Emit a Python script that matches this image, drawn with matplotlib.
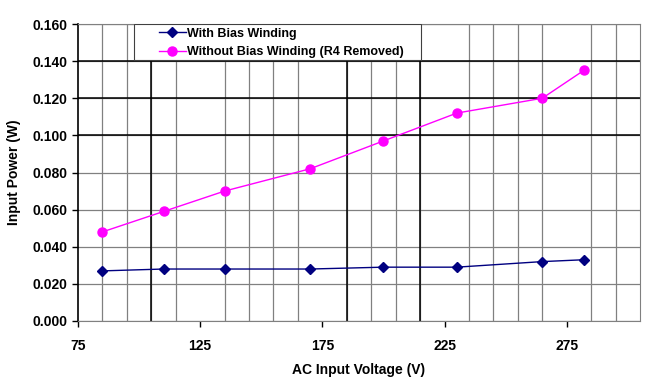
import matplotlib.pyplot as plt
from matplotlib.ticker import MultipleLocator, FixedLocator, FormatStrFormatter
from matplotlib.patches import Rectangle

plt.rcParams['font.family'] = ['Liberation Sans', 'DejaVu Sans']

# measured data
voltage = [85, 110, 135, 170, 200, 230, 265, 282]
with_bias = [0.027, 0.028, 0.028, 0.028, 0.029, 0.029, 0.032, 0.033]
without_bias = [0.048, 0.059, 0.070, 0.082, 0.097, 0.112, 0.120, 0.135]
x_ticks = [75, 125, 175, 225, 275]
grid_x = list(range(85, 305, 10))
dark_vlines = [105, 185, 215]
dark_hlines = [0.100, 0.120, 0.140]

fig = plt.figure(figsize=(6.59, 3.81), dpi=100)
ax = fig.add_axes([78/659, 1-321/381, (640-78)/659, (321-24)/381])

# grid: gray every 10 V (offset from the labelled ticks) and every 0.02 W
ax.xaxis.set_minor_locator(FixedLocator(grid_x))
ax.grid(axis='x', which='minor', color='#808080', linewidth=0.9)
ax.grid(axis='x', which='major', visible=False)
ax.grid(axis='y', which='major', color='#808080', linewidth=0.9)
for v in dark_vlines:
    ax.axvline(v, color='black', linewidth=1.1, zorder=2)
for h in dark_hlines:
    ax.axhline(h, color='black', linewidth=1.1, zorder=2)

ax.plot(voltage, with_bias, color='#000080', marker='D', markersize=5,
        linewidth=1.0, label='With Bias Winding', zorder=3)
ax.plot(voltage, without_bias, color='#FF00FF', marker='o', markersize=6.5,
        linewidth=1.0, label='Without Bias Winding (R4 Removed)', zorder=3)

ax.set_xlim(75, 305)
ax.set_ylim(0, 0.16)
ax.set_xticks(x_ticks)
ax.yaxis.set_major_locator(MultipleLocator(0.02))
ax.yaxis.set_major_formatter(FormatStrFormatter('%.3f'))
ax.tick_params(which='minor', length=0)
ax.tick_params(which='major', direction='out', length=4, width=1,
               labelsize=10, color='black')
for lbl in ax.get_xticklabels() + ax.get_yticklabels():
    lbl.set_fontweight('bold')
ax.tick_params(axis='x', pad=9)

for s in ['top', 'right', 'bottom']:
    ax.spines[s].set_color('#808080')
ax.spines['left'].set_color('black')
ax.spines['left'].set_linewidth(1.2)

ax.set_xlabel('AC Input Voltage (V)', fontsize=10, fontweight='bold', labelpad=7)
ax.set_ylabel('Input Power (W)', fontsize=10, fontweight='bold', labelpad=8)

# legend box (wider than the entries, as in the original)
box = Rectangle((0.0996, 0.8788), 0.5107, 0.1212, transform=ax.transAxes,
                facecolor='white', edgecolor='#404040', linewidth=0.8, zorder=4)
ax.add_patch(box)
leg = ax.legend(loc='upper left', bbox_to_anchor=(0.1370, 1.0), borderaxespad=0,
                frameon=False, prop={'weight': 'bold', 'size': 9},
                handlelength=2.2, handletextpad=0.1, borderpad=0.3,
                labelspacing=0.5)
leg.set_zorder(5)

fig.savefig('out.png', dpi=100)
